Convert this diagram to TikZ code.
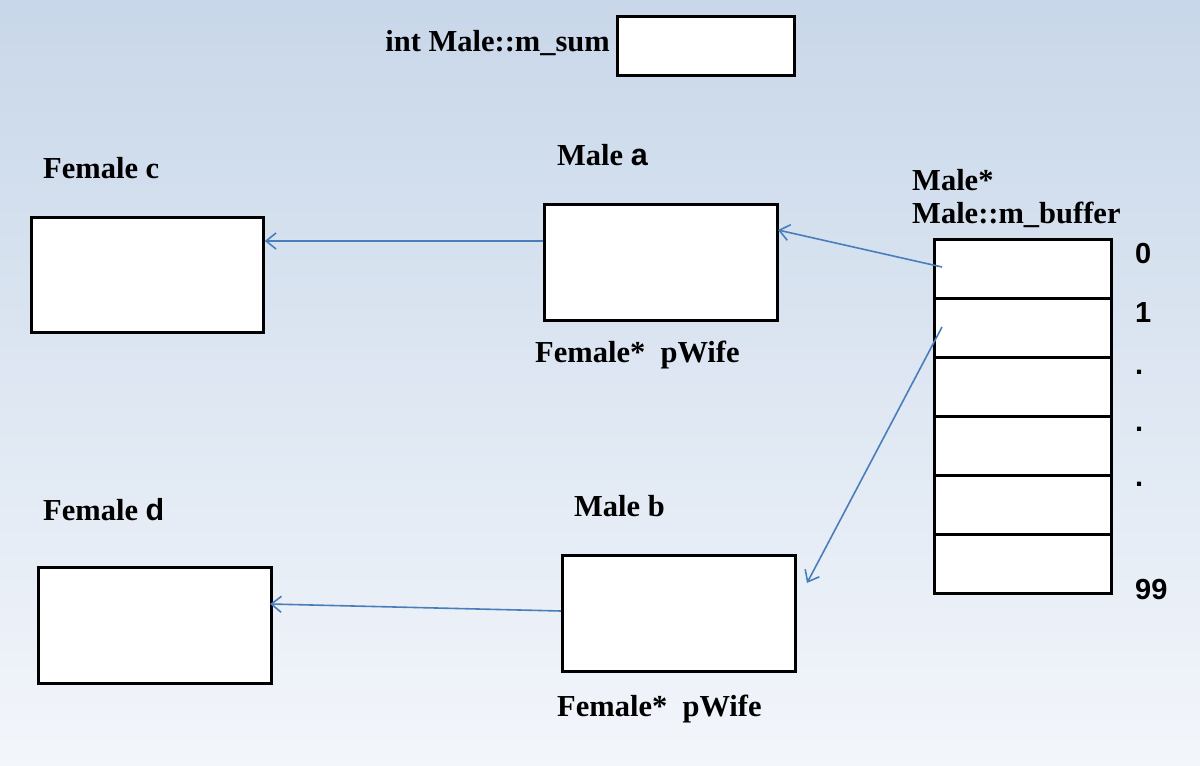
\documentclass[tikz,border=0pt]{standalone}
\usepackage{fontspec}
\setmainfont{Liberation Serif}
\newfontfamily\arialf{Liberation Sans}
\usetikzlibrary{arrows.meta}
\definecolor{bgtop}{RGB}{200,215,233}
\definecolor{bgbot}{RGB}{243,246,251}
\definecolor{arrowblue}{RGB}{74,126,187}
\tikzset{
  box/.style={draw=black, line width=2.8pt, fill=white, inner sep=0pt, anchor=north west},
  lbl/.style={font=\fontsize{30.5}{32}\selectfont\bfseries, inner sep=0pt, anchor=west},
  num/.style={font=\arialf\fontsize{29}{30}\selectfont\bfseries, inner sep=0pt, anchor=west},
  ptr/.style={draw=arrowblue, line width=1.6pt, -{Straight Barb[length=10pt,width=16pt,line width=1.6pt]}}
}
\begin{document}
\begin{tikzpicture}[x=1pt,y=-1pt]
\shade[top color=bgtop, bottom color=bgbot] (0,0) rectangle (1200,766);
\useasboundingbox (0,0) rectangle (1200,766);

% top
\node[box, minimum width=177pt, minimum height=59pt] (sum) at (616,15) {};
\node[lbl, anchor=east] (sumlbl) at (610,43) {int Male::m\_sum};

% female c
\node[box, minimum width=232pt, minimum height=115pt] (fc) at (30,216) {};
\node[lbl] (fclbl) at (43,168) {Female c};

% male a
\node[box, minimum width=233pt, minimum height=116pt] (ma) at (543,203) {};
\node[lbl] (malbl) at (557,155) {Male {\arialf a}};
\node[lbl] (mapw) at (535,355) {Female*\ \ pWife};

% female d
\node[box, minimum width=233pt, minimum height=116pt] (fd) at (37,566) {};
\node[lbl] (fdlbl) at (43,510) {Female {\arialf d}};

% male b
\node[box, minimum width=233pt, minimum height=116pt] (mb) at (561,554) {};
\node[lbl] (mblbl) at (574,506) {Male b};
\node[lbl] (mbpw) at (557,709) {Female*\ \ pWife};

% buffer
\node[lbl] (buf1) at (912,180) {Male*};
\node[lbl] (buf2) at (912,215) {Male::m\_buffer};
\foreach \i in {0,...,5}{
  \node[box, minimum width=177pt, minimum height=59pt] (b\i) at (933,238+59*\i) {};
}
\node[num] (n0) at (1135,254) {0};
\node[num] (n1) at (1135,313) {1};
\node[num] (d1) at (1135,372) {.};
\node[num] (d2) at (1135,429) {.};
\node[num] (d3) at (1135,484) {.};
\node[num] (n99) at (1135,590) {99};

\coordinate (p0) at (942,267);
\coordinate (p1) at (942,327);

% pointers
\draw[ptr] (ma.west |- 0,241) -- (fc.east |- 0,241);
\draw[ptr] (p0) -- (778,230);
\draw[ptr] (p1) -- (807,583);
\draw[ptr] (mb.west |- 0,611) -- (270,604);
\end{tikzpicture}
\end{document}
